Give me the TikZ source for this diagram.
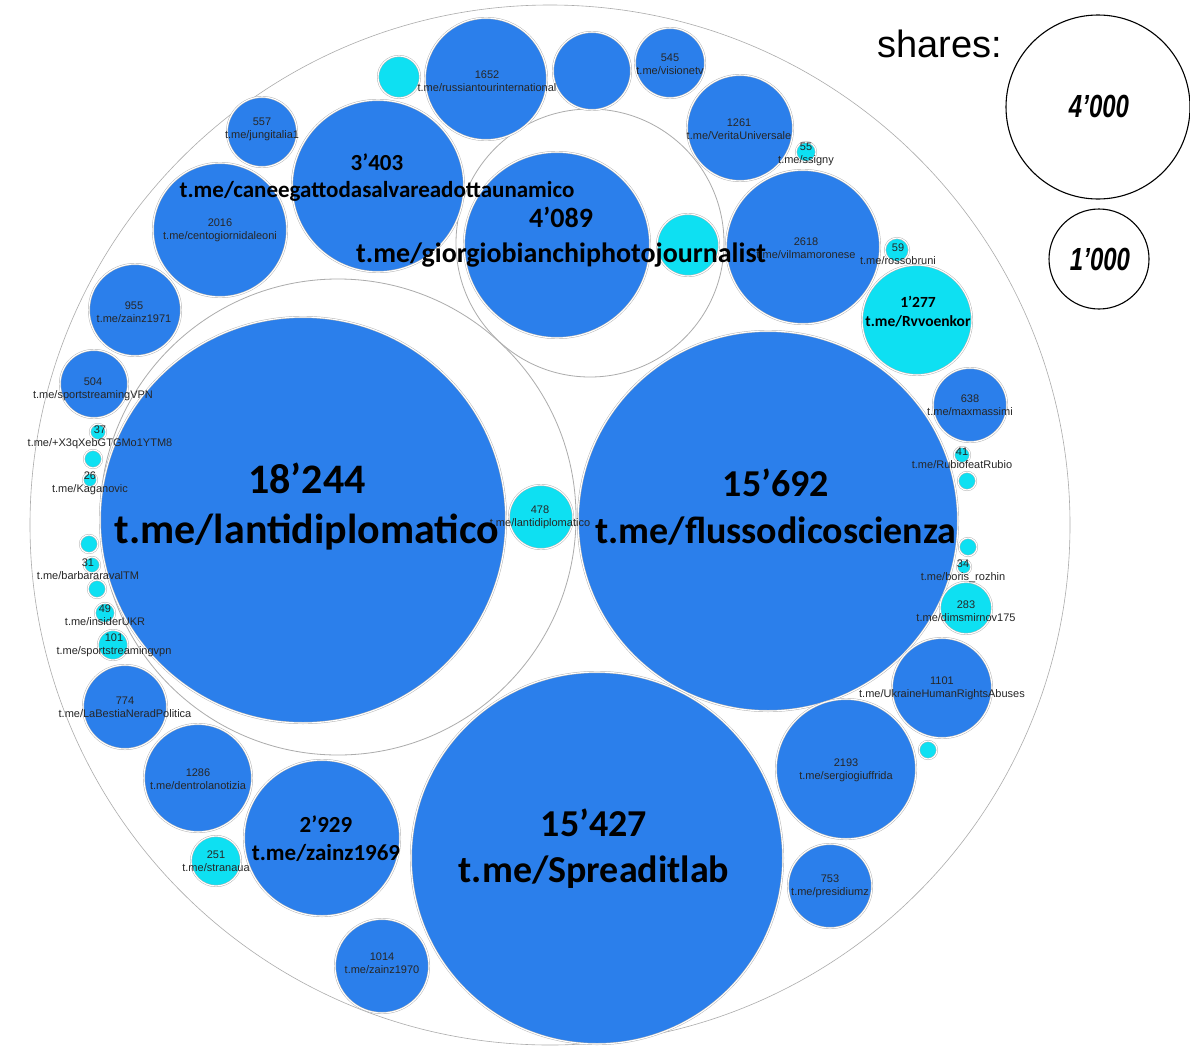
\documentclass[tikz,border=0pt]{standalone}
\usepackage{fontspec}
\setmainfont{Liberation Sans}
\newfontfamily\carl{Carlito}
\definecolor{bblue}{RGB}{43,127,235}
\definecolor{bcyan}{RGB}{14,224,242}
\tikzset{
  bub/.style={circle, inner sep=0pt, outer sep=0pt, draw=gray!60, double=white, double distance=1.1pt, line width=0.45pt},
  blu/.style={bub, fill=bblue},
  cya/.style={bub, fill=bcyan},
  cont/.style={circle, inner sep=0pt, outer sep=0pt, draw=gray!65, line width=0.8pt, fill=white},
  sm/.style={font=\fontsize{11}{13}\selectfont, text=black!85, align=center, inner sep=0pt},
  big/.style n args={2}{font=\carl\bfseries\fontsize{#1}{#2}\selectfont, text=black, align=center, inner sep=0pt},
  leg/.style={circle, inner sep=0pt, draw=black, line width=1.1pt},
  legtxt/.style={font=\bfseries\itshape\fontsize{32}{34}\selectfont, xscale=0.75, inner sep=0pt}
}
\newcommand\Bub[5]{\node[#2, minimum size=#5*2pt] (#1) at (#3,#4) {};}
\begin{document}
\begin{tikzpicture}[x=1pt,y=-1pt]
\useasboundingbox (0,0) rectangle (1190,1052);
\fill[white] (0,0) rectangle (1190,1052);
% outer and container circles
\node[cont, minimum size=1040pt, line width=0.6pt] (outer) at (550,525) {};
\node[cont, minimum size=476pt] (contL) at (338,517) {};
\node[cont, minimum size=268pt] (contG) at (590,243) {};
% big bubbles
\Bub{lanti}{blu}{303}{520}{203}
\Bub{flusso}{blu}{768}{521}{190}
\Bub{spread}{blu}{597}{858}{186}
\Bub{gio}{blu}{557}{245}{93}
\Bub{cane}{blu}{378}{186}{86}
\Bub{zsixnine}{blu}{322}{838}{78}
\Bub{vilma}{blu}{803}{247}{77}
\Bub{sergio}{blu}{846}{769}{70}
\Bub{oento}{blu}{220}{230}{67}
\Bub{russ}{blu}{486}{79}{61}
\Bub{unl}{blu}{592}{71}{39}
\Bub{vision}{blu}{670}{63}{35}
\Bub{verita}{blu}{740}{128}{53}
\Bub{ssigny}{cya}{806}{152}{10}
\Bub{rosso}{cya}{897}{250}{12}
\Bub{rvvo}{cya}{917}{320}{55}
\Bub{maxm}{blu}{970}{405}{37}
\Bub{rubio}{cya}{962}{455}{8}
\Bub{cA}{cya}{967}{481}{9}
\Bub{cB}{cya}{968}{547}{9}
\Bub{boris}{cya}{964}{567}{7}
\Bub{dims}{cya}{966}{608}{26}
\Bub{ukr}{blu}{942}{688}{50}
\Bub{cC}{cya}{928}{750}{9}
\Bub{pres}{blu}{830}{886}{42}
\Bub{zsevenzero}{blu}{382}{966}{47}
\Bub{strana}{cya}{216}{861}{25}
\Bub{dentro}{blu}{198}{778}{54}
\Bub{bestia}{blu}{125}{707}{42}
\Bub{sporttwo}{cya}{113}{645}{15}
\Bub{insider}{cya}{105}{613}{10}
\Bub{cD}{cya}{97}{589}{9}
\Bub{barb}{cya}{92}{565}{8}
\Bub{cE}{cya}{89}{544}{9}
\Bub{kagan}{cya}{90}{480}{7}
\Bub{cF}{cya}{93}{459}{9}
\Bub{xtq}{cya}{98}{432}{8}
\Bub{sportone}{blu}{94}{384}{34}
\Bub{zsevenone}{blu}{135}{310}{46}
\Bub{jung}{blu}{262}{132}{35}
\Bub{cG}{cya}{399}{77}{21}
\Bub{cH}{cya}{688}{245}{31}
\Bub{small478}{cya}{541}{517}{32}
% small labels
\node[sm] (lrus) at (487,81) {1652\\t.me/russiantourinternational};
\node[sm] (lvis) at (670,64) {545\\t.me/visionetv};
\node[sm] (lver) at (739,129) {1261\\t.me/VeritaUniversale};
\node[sm] (lssi) at (806,154) {55\\t.me/ssigny};
\node[sm] (ljun) at (262,129) {557\\t.me/jungitalia1};
\node[sm] (lcen) at (220,230) {2016\\t.me/centogiornidaleoni};
\node[sm] (lvil) at (806,248) {2618\\t.me/vilmamoronese};
\node[sm] (lros) at (898,254) {59\\t.me/rossobruni};
\node[sm] (lz71) at (134,312) {955\\t.me/zainz1971};
\node[sm] (lsp1) at (93,389) {504\\t.me/sportstreamingVPN};
\node[sm] (lmax) at (970,405) {638\\t.me/maxmassimi};
\node[sm] (lxtq) at (100,437) {37\\t.me/+X3qXebGTGMo1YTM8};
\node[sm] (lrub) at (962,458) {41\\t.me/RubiofeatRubio};
\node[sm] (l478) at (540,517) {478\\t.me/lantidiplomatico};
\node[sm] (lkag) at (90,483) {26\\t.me/Kaganovic};
\node[sm] (lbor) at (963,571) {34\\t.me/boris\_rozhin};
\node[sm] (lbar) at (88,569) {31\\t.me/barbararavalTM};
\node[sm] (ldim) at (966,611) {283\\t.me/dimsmirnov175};
\node[sm] (lins) at (105,615) {49\\t.me/insiderUKR};
\node[sm] (lsp2) at (114,645) {101\\t.me/sportstreamingvpn};
\node[sm] (lukr) at (942,688) {1101\\t.me/UkraineHumanRightsAbuses};
\node[sm] (lbes) at (125,707) {774\\t.me/LaBestiaNeradPolitica};
\node[sm] (lser) at (846,770) {2193\\t.me/sergiogiuffrida};
\node[sm] (lden) at (198,779) {1286\\t.me/dentrolanotizia};
\node[sm] (lstr) at (216,861) {251\\t.me/stranaua};
\node[sm] (lpre) at (830,886) {753\\t.me/presidiumz};
\node[sm] (lz70) at (382,963) {1014\\t.me/zainz1970};
% big labels
\node[big={42}{50}] (llan) at (307,507) {18’244\\t.me/lantidiplomatico};
\node[big={38}{47}] (lflu) at (776,507) {15’692\\t.me/flussodicoscienza};
\node[big={38}{46}] (lspr) at (594,849) {15’427\\t.me/Spreaditlab};
\node[big={28}{35}] (lgio) at (561,237) {4’089\\t.me/giorgiobianchiphotojournalist};
\node[big={23}{27}] (lcan) at (377,178) {3’403\\t.me/caneegattodasalvareadottaunamico};
\node[big={23}{28}] (lz69) at (326,839) {2’929\\t.me/zainz1969};
\node[big={15.5}{19}] (lrvv) at (918,312) {1’277\\t.me/Rvvoenkor};
% legend
\node[font=\fontsize{38}{40}\selectfont, inner sep=0pt] (shares) at (940,44) {shares:};
\node[leg, minimum size=184pt] (legA) at (1098,107) {};
\node[leg, minimum size=100pt] (legB) at (1099,259) {};
\node[legtxt] (legAt) at (1099,106) {4'000};
\node[legtxt] (legBt) at (1100,259) {1'000};
\end{tikzpicture}
\end{document}
